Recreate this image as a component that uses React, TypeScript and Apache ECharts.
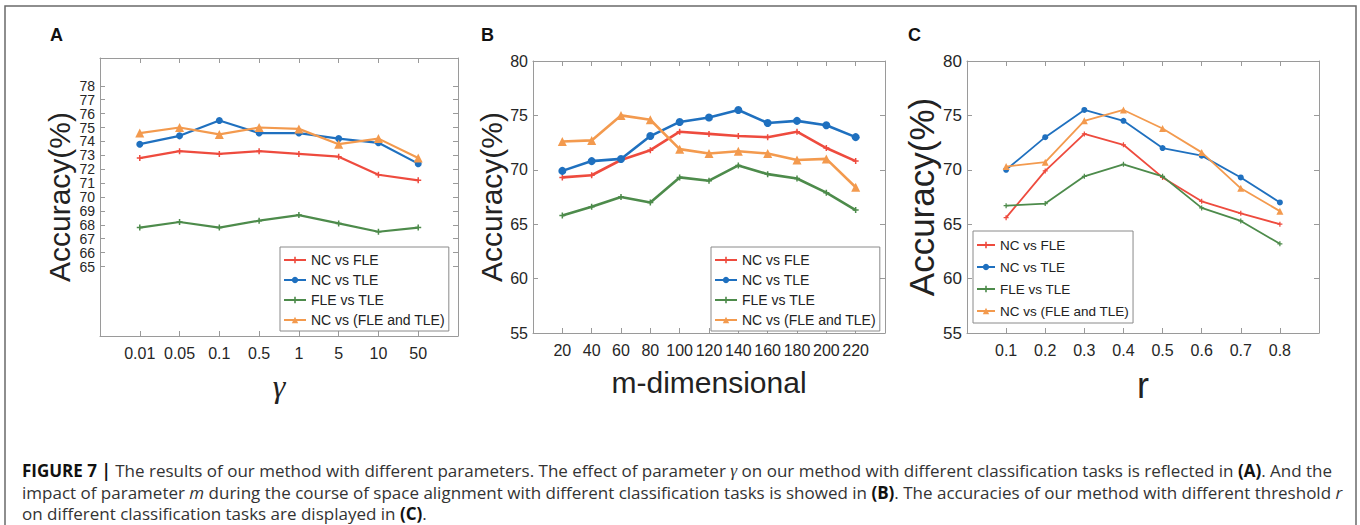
import React, { useEffect, useRef } from "react";
import * as echarts from "echarts";

// ---------- data ----------
const seriesNames = ["NC vs FLE", "NC vs TLE", "FLE vs TLE", "NC vs (FLE and TLE)"];
const seriesColors = ["#EE4B3E", "#1F70BF", "#4D8B4B", "#F39A4E"];

const gammaCategories = ["0.01", "0.05", "0.1", "0.5", "1", "5", "10", "50"];
const gammaNCvsFLE = [72.8, 73.3, 73.1, 73.3, 73.1, 72.9, 71.6, 71.2];
const gammaNCvsTLE = [73.8, 74.4, 75.5, 74.6, 74.6, 74.2, 73.9, 72.4];
const gammaFLEvsTLE = [67.8, 68.2, 67.8, 68.3, 68.7, 68.1, 67.5, 67.8];
const gammaNCvsBoth = [74.6, 75.0, 74.5, 75.0, 74.9, 73.8, 74.2, 72.8];
const gammaYTicks = [65, 66, 67, 68, 69, 70, 71, 72, 73, 74, 75, 76, 77, 78];

const mValues = [20, 40, 60, 80, 100, 120, 140, 160, 180, 200, 220];
const mNCvsFLE = [69.3, 69.5, 70.9, 71.8, 73.5, 73.3, 73.1, 73.0, 73.5, 72.0, 70.8];
const mNCvsTLE = [69.9, 70.8, 71.0, 73.1, 74.4, 74.8, 75.5, 74.3, 74.5, 74.1, 73.0];
const mFLEvsTLE = [65.8, 66.6, 67.5, 67.0, 69.3, 69.0, 70.4, 69.6, 69.2, 67.9, 66.3];
const mNCvsBoth = [72.6, 72.7, 75.0, 74.6, 71.9, 71.5, 71.7, 71.5, 70.9, 71.0, 68.4];

const rValues = [0.1, 0.2, 0.3, 0.4, 0.5, 0.6, 0.7, 0.8];
const rNCvsFLE = [65.6, 69.9, 73.3, 72.3, 69.3, 67.1, 66.0, 65.0];
const rNCvsTLE = [70.0, 73.0, 75.5, 74.5, 72.0, 71.3, 69.3, 67.0];
const rFLEvsTLE = [66.7, 66.9, 69.4, 70.5, 69.4, 66.5, 65.3, 63.2];
const rNCvsBoth = [70.3, 70.7, 74.5, 75.5, 73.8, 71.6, 68.3, 66.2];

const accuracyTicks = [55, 60, 65, 70, 75, 80];

const captionLines = [
  "{b|FIGURE 7 |} The results of our method with different parameters. The effect of parameter {g|γ} on our method with different classification tasks is reflected in {b|(A)}. And the",
  "impact of parameter {i|m} during the course of space alignment with different classification tasks is showed in {b|(B)}. The accuracies of our method with different threshold {i|r}",
  "on different classification tasks are displayed in {b|(C)}.",
];

// ---------- styling ----------
const SANS = "'Liberation Sans', Arial, Helvetica, sans-serif";
const CAPTION = "'Open Sans', 'Liberation Sans', Arial, sans-serif";
const SERIF = "'Liberation Serif', 'DejaVu Serif', serif";
const BOX = "#9a9a9a";
const TEXT = "#262626";
const PLUS = "path://M3,0H5V3H8V5H5V8H3V5H0V3H3Z";

type Panel = {
  grid: { left: number; top: number; width: number; height: number };
  xMin: number; xMax: number; xTicks: number[]; xLabel: (v: number) => string;
  xs: number[];
  yMin: number; yMax: number; yInterval: number; yTicks: number[];
  values: number[][];
  xName: string; xNameFont: string; xNameSize: number; xNameGap: number; xNameItalic: boolean;
  yNameSize: number; yNameGap: number;
  tickFont: string; tickSize: number; yTickSize: number; yLineHeight: number;
  legend: { left: number; top: number; font: string; size: number; lineHeight: number; itemWidth: number };
  lineWidth: number; sizes: number[];
};

function buildPanel(p: number, c: Panel) {
  const tickStyle = { lineStyle: { color: BOX, width: 1 } };
  const xBase = {
    type: "value", gridIndex: p, min: c.xMin, max: c.xMax,
    axisLine: { show: true, onZero: false, lineStyle: { color: BOX, width: 1 } },
    axisTick: { show: true, inside: true, length: 5, customValues: c.xTicks, ...tickStyle },
    splitLine: { show: false },
  };
  const yBase = {
    type: "value", gridIndex: p, min: c.yMin, max: c.yMax, interval: c.yInterval,
    axisLine: { show: true, onZero: false, lineStyle: { color: BOX, width: 1 } },
    axisTick: { show: true, inside: true, length: 5, customValues: c.yTicks, ...tickStyle },
    splitLine: { show: false },
  };
  const xAxes = [
    {
      ...xBase, position: "bottom",
      axisLabel: {
        show: true, customValues: c.xTicks, formatter: c.xLabel, fontSize: c.tickSize, fontFamily: c.tickFont,
        color: TEXT, margin: 9, showMinLabel: true, showMaxLabel: true, hideOverlap: false,
      },
      name: c.xName, nameLocation: "middle", nameGap: c.xNameGap,
      nameTextStyle: { fontSize: c.xNameSize, fontFamily: c.xNameFont, fontStyle: c.xNameItalic ? "italic" : "normal", color: "#222" },
    },
    { ...xBase, position: "top", axisLabel: { show: false } },
  ];
  const yAxes = [
    {
      ...yBase, position: "left",
      axisLabel: {
        show: true, customValues: c.yTicks, fontSize: c.yTickSize, fontFamily: c.tickFont, color: TEXT,
        margin: 5, lineHeight: c.yLineHeight, showMinLabel: true, showMaxLabel: true, hideOverlap: false,
      },
      name: "Accuracy(%)", nameLocation: "middle", nameGap: c.yNameGap,
      nameTextStyle: { fontSize: c.yNameSize, fontFamily: SANS, color: "#222" },
    },
    { ...yBase, position: "right", axisLabel: { show: false } },
  ];
  const symbols = [PLUS, "circle", PLUS, "triangle"];
  const series = c.values.map((vals, k) => ({
    type: "line", name: seriesNames[k], xAxisIndex: p * 2, yAxisIndex: p * 2,
    data: vals.map((v, i) => [c.xs[i], v]),
    symbol: symbols[k], symbolSize: c.sizes[k], showSymbol: true,
    color: seriesColors[k],
    lineStyle: { color: seriesColors[k], width: c.lineWidth },
    itemStyle: { color: seriesColors[k] },
    z: 2 + k,
  }));
  const legend = {
    left: c.legend.left, top: c.legend.top, orient: "vertical",
    itemWidth: c.legend.itemWidth, itemHeight: 8, itemGap: 4, padding: [5, 4, 3, 3],
    borderColor: "#8a8a8a", borderWidth: 1, backgroundColor: "#fff",
    textStyle: { fontSize: c.legend.size, fontFamily: c.legend.font, color: "#222", lineHeight: c.legend.lineHeight },
    data: seriesNames, selectedMode: false,
  };
  return { grid: { ...c.grid, containLabel: false, outerBoundsMode: "none" }, xAxes, yAxes, series, legend };
}

function buildOption() {
  const panels: Panel[] = [
    {
      grid: { left: 100, top: 58, width: 358, height: 278 },
      xMin: 0, xMax: gammaCategories.length + 1,
      xTicks: gammaCategories.map((_, i) => i + 1),
      xLabel: (v: number) => gammaCategories[Math.round(v) - 1] ?? "",
      xs: gammaCategories.map((_, i) => i + 1),
      yMin: 60, yMax: 80, yInterval: 1, yTicks: gammaYTicks,
      values: [gammaNCvsFLE, gammaNCvsTLE, gammaFLEvsTLE, gammaNCvsBoth],
      xName: "γ", xNameFont: SERIF, xNameSize: 32, xNameGap: 34, xNameItalic: true,
      yNameSize: 30, yNameGap: 26,
      tickFont: SANS, tickSize: 16, yTickSize: 14, yLineHeight: 12,
      legend: { left: 280, top: 247, font: SANS, size: 14, lineHeight: 16, itemWidth: 22 },
      lineWidth: 2.2, sizes: [6, 7, 6, 9],
    },
    {
      grid: { left: 533, top: 61, width: 352, height: 272 },
      xMin: 0, xMax: 240, xTicks: mValues, xLabel: (v: number) => String(v),
      xs: mValues,
      yMin: 55, yMax: 80, yInterval: 5, yTicks: accuracyTicks,
      values: [mNCvsFLE, mNCvsTLE, mFLEvsTLE, mNCvsBoth],
      xName: "m-dimensional", xNameFont: SANS, xNameSize: 30, xNameGap: 34, xNameItalic: false,
      yNameSize: 30, yNameGap: 26,
      tickFont: SANS, tickSize: 16, yTickSize: 16, yLineHeight: 16,
      legend: { left: 711, top: 247, font: SANS, size: 14, lineHeight: 16, itemWidth: 22 },
      lineWidth: 2.6, sizes: [6, 8, 6, 9],
    },
    {
      grid: { left: 967, top: 61, width: 352, height: 272 },
      xMin: 0, xMax: 0.9, xTicks: rValues, xLabel: (v: number) => v.toFixed(1),
      xs: rValues,
      yMin: 55, yMax: 80, yInterval: 5, yTicks: accuracyTicks,
      values: [rNCvsFLE, rNCvsTLE, rFLEvsTLE, rNCvsBoth],
      xName: "r", xNameFont: SANS, xNameSize: 36, xNameGap: 34, xNameItalic: false,
      yNameSize: 35, yNameGap: 27,
      tickFont: SANS, tickSize: 16, yTickSize: 17, yLineHeight: 17,
      legend: { left: 973, top: 231, font: SANS, size: 13.5, lineHeight: 18, itemWidth: 18 },
      lineWidth: 1.8, sizes: [5, 6, 5, 7],
    },
  ];
  const built = panels.map((c, p) => buildPanel(p, c));

  const capSize = 17;
  const captionRich = {
    b: { fontWeight: "bold", fontSize: capSize, fontFamily: CAPTION, fill: "#111", color: "#111" },
    i: { fontStyle: "italic", fontSize: capSize, fontFamily: CAPTION, fill: "#333", color: "#333" },
    g: { fontStyle: "italic", fontSize: capSize + 0.5, fontFamily: SERIF, fill: "#333", color: "#333" },
  };
  const captionY = [470, 492, 513];

  const graphic: any[] = [
    { type: "rect", silent: true, z: -10, shape: { x: 5, y: 6, width: 1351, height: 560 }, style: { fill: "none", stroke: "#6a6a6a", lineWidth: 1.5 } },
    ...["A", "B", "C"].map((t, i) => ({
      type: "text", silent: true,
      style: { text: t, x: [50, 481, 908][i], y: 35, fontSize: 18, fontWeight: "bold", fontFamily: SANS, fill: "#111", textVerticalAlign: "middle" },
    })),
    ...captionLines.map((line, i) => ({
      type: "text", silent: true,
      style: { text: line, x: 22, y: captionY[i], fontSize: capSize, fontFamily: CAPTION, fill: "#333", textVerticalAlign: "middle", rich: captionRich },
    })),
  ];

  return {
    animation: false,
    backgroundColor: "#fff",
    grid: built.map((b) => b.grid),
    xAxis: built.flatMap((b) => b.xAxes),
    yAxis: built.flatMap((b) => b.yAxes),
    series: built.flatMap((b) => b.series),
    legend: built.map((b) => b.legend),
    graphic,
  };
}

export default function App() {
  const ref = useRef<HTMLDivElement>(null);
  useEffect(() => {
    document.body.style.margin = "0";
    const chart = echarts.init(ref.current!, null, { renderer: "svg" });
    chart.setOption(buildOption() as any);
    return () => chart.dispose();
  }, []);
  return <div ref={ref} style={{ width: 1360, height: 525 }} />;
}
